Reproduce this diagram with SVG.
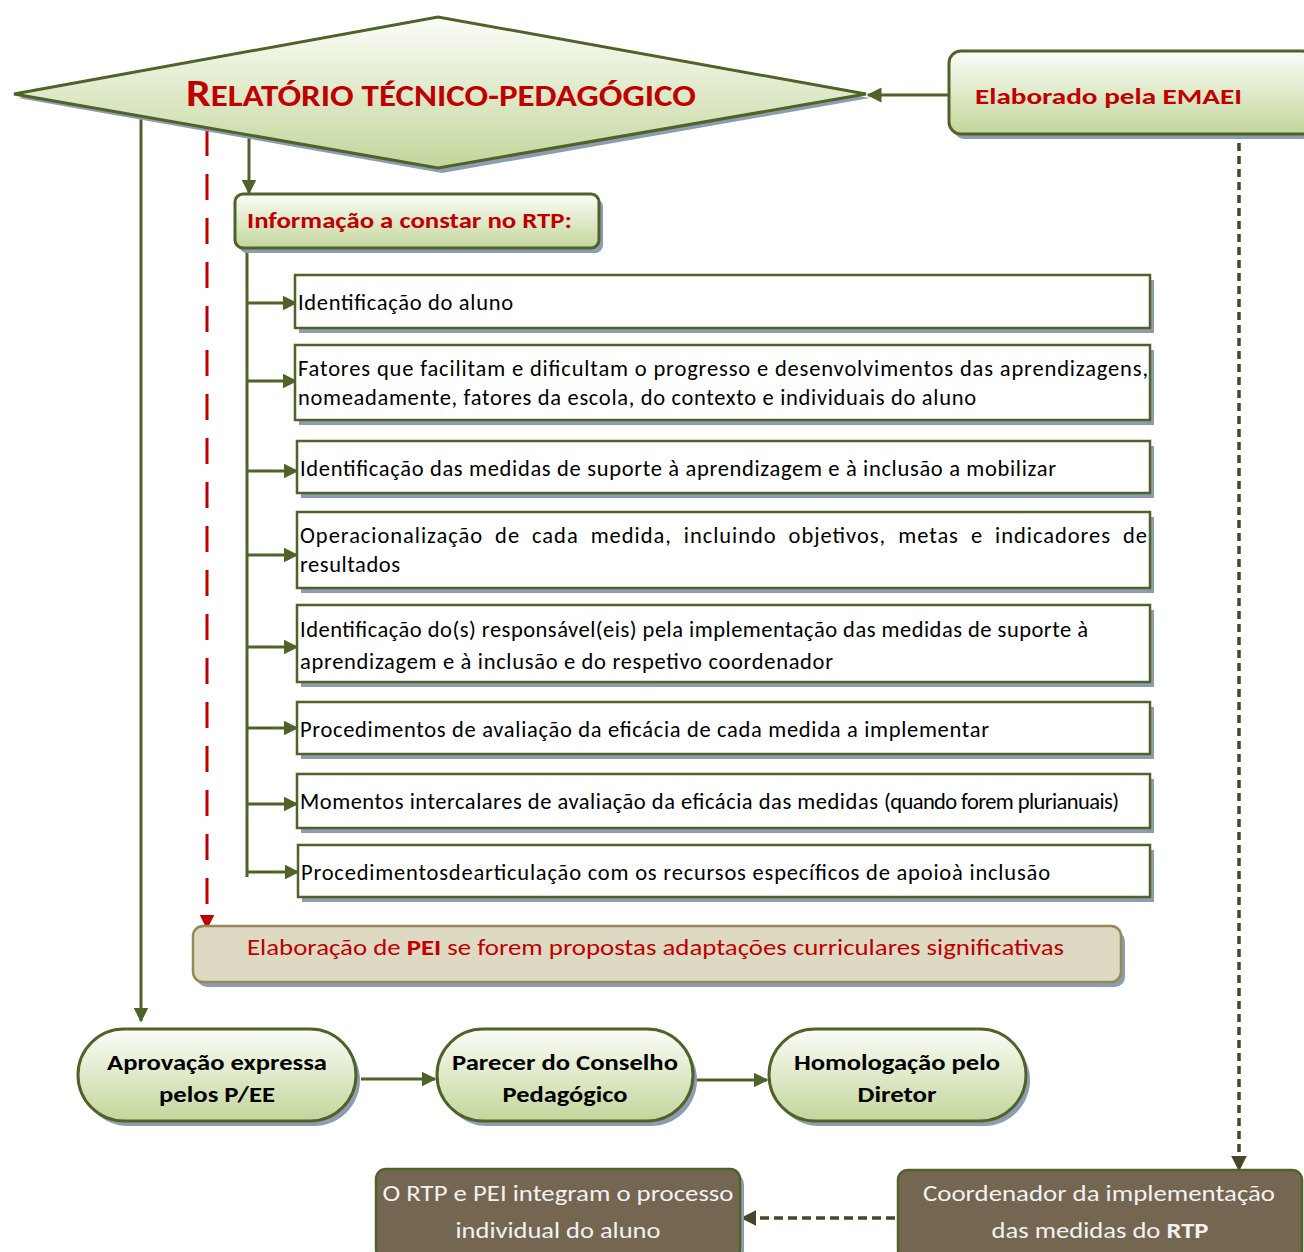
<svg xmlns="http://www.w3.org/2000/svg" width="1304" height="1252" viewBox="0 0 1304 1252">
<defs>
<linearGradient id="gGreen" x1="0" y1="0" x2="0" y2="1">
<stop offset="0" stop-color="#fbfdf8"/>
<stop offset="1" stop-color="#c3d69b"/>
</linearGradient>
<marker id="aGreen" viewBox="0 0 10 10" refX="9" refY="5" markerWidth="5" markerHeight="5" orient="auto" markerUnits="strokeWidth">
<path d="M0,0 L10,5 L0,10 z" fill="#4f6228"/>
</marker>
<marker id="aRed" viewBox="0 0 10 10" refX="9" refY="5" markerWidth="5" markerHeight="5" orient="auto" markerUnits="strokeWidth">
<path d="M0,0 L10,5 L0,10 z" fill="#c00000"/>
</marker>
<marker id="aDark" viewBox="0 0 10 10" refX="9" refY="5" markerWidth="4.5" markerHeight="4.5" orient="auto" markerUnits="strokeWidth">
<path d="M0,0 L10,5 L0,10 z" fill="#4a4529"/>
</marker>
</defs>
<style>
.sh{fill:#8e9cb1}
.gr{fill:url(#gGreen);stroke:#4f6228;stroke-width:3}
.wb{fill:#ffffff;stroke:#4f6228;stroke-width:2.5}
.br{fill:#756651;stroke:#4f6228;stroke-width:2.5}
.t{font-family:Carlito,Lato,"Liberation Sans",sans-serif;font-size:22.5px;fill:#000}
.red{fill:#c00000}
.b{font-weight:bold}
.wt{fill:#f2f2f2}
.ln{fill:none;stroke:#4f6228;stroke-width:3}
</style>

<g id="connectors">
<line class="ln" x1="949" y1="95" x2="868" y2="95" marker-end="url(#aGreen)"/>
<line x1="1239" y1="130" x2="1239" y2="1170" stroke="#4a4529" stroke-width="3.5" stroke-dasharray="8,5" marker-end="url(#aDark)"/>
<line class="ln" x1="141" y1="115" x2="141" y2="1021" marker-end="url(#aGreen)"/>
<line x1="207" y1="130" x2="207" y2="928" stroke="#c00000" stroke-width="3" stroke-dasharray="26,18" marker-end="url(#aRed)"/>
<line class="ln" x1="249" y1="135" x2="249" y2="193" marker-end="url(#aGreen)"/>
<line class="ln" x1="247" y1="248" x2="247" y2="877"/>
<line class="ln" x1="247" y1="303" x2="296" y2="303" marker-end="url(#aGreen)"/>
<line class="ln" x1="247" y1="381" x2="296" y2="381" marker-end="url(#aGreen)"/>
<line class="ln" x1="247" y1="471" x2="297" y2="471" marker-end="url(#aGreen)"/>
<line class="ln" x1="247" y1="555" x2="297" y2="555" marker-end="url(#aGreen)"/>
<line class="ln" x1="247" y1="647" x2="297" y2="647" marker-end="url(#aGreen)"/>
<line class="ln" x1="247" y1="728" x2="297" y2="728" marker-end="url(#aGreen)"/>
<line class="ln" x1="247" y1="804" x2="297" y2="804" marker-end="url(#aGreen)"/>
<line class="ln" x1="247" y1="872" x2="298" y2="872" marker-end="url(#aGreen)"/>
<line class="ln" x1="361" y1="1079" x2="435" y2="1079" marker-end="url(#aGreen)"/>
<line class="ln" x1="695" y1="1080" x2="767" y2="1080" marker-end="url(#aGreen)"/>
<line x1="895" y1="1218" x2="742" y2="1218" stroke="#4a4529" stroke-width="3.5" stroke-dasharray="9,5" marker-end="url(#aDark)"/>
</g>

<g id="rtp">
<polygon class="sh" points="18,98 442,22 870,98 442,173"/>
<polygon class="gr" points="14,94 438,17 866,94 438,168"/>
<text class="t red b" x="186" y="106" textLength="510" lengthAdjust="spacingAndGlyphs"><tspan font-size="39">R</tspan><tspan font-size="31">ELATÓRIO TÉCNICO-PEDAGÓGICO</tspan></text>
</g>

<g id="emaei">
<rect class="sh" x="953" y="56" width="360" height="83" rx="12"/>
<rect class="gr" x="949" y="51" width="365" height="83" rx="12"/>
<text class="t red b" x="975" y="104" font-size="27" textLength="267" lengthAdjust="spacingAndGlyphs">Elaborado pela EMAEI</text>
</g>

<g id="info">
<rect class="sh" x="239" y="199" width="364" height="54" rx="8"/>
<rect class="gr" x="235" y="194" width="364" height="54" rx="8"/>
<text class="t red b" x="247" y="228" font-size="24.5" textLength="325" lengthAdjust="spacingAndGlyphs">Informação a constar no RTP:</text>
</g>

<g id="item1">
<rect class="sh" x="299" y="280" width="855" height="53"/>
<rect class="wb" x="295" y="275" width="855" height="53"/>
<text class="t" x="298" y="310" textLength="215">Identificação do aluno</text>
</g>
<g id="item2">
<rect class="sh" x="299" y="350" width="855" height="75"/>
<rect class="wb" x="295" y="345" width="855" height="75"/>
<text class="t" x="298" y="376" textLength="850">Fatores que facilitam e dificultam o progresso e desenvolvimentos das aprendizagens,</text>
<text class="t" x="298" y="405" textLength="678">nomeadamente, fatores da escola, do contexto e individuais do aluno</text>
</g>
<g id="item3">
<rect class="sh" x="301" y="446" width="853" height="52"/>
<rect class="wb" x="297" y="441" width="853" height="52"/>
<text class="t" x="300" y="476" textLength="756">Identificação das medidas de suporte à aprendizagem e à inclusão a mobilizar</text>
</g>
<g id="item4">
<rect class="sh" x="301" y="517" width="853" height="76"/>
<rect class="wb" x="297" y="512" width="853" height="76"/>
<text class="t" x="300" y="543" textLength="847" word-spacing="6">Operacionalização de cada medida, incluindo objetivos, metas e indicadores de</text>
<text class="t" x="300" y="572" textLength="100">resultados</text>
</g>
<g id="item5">
<rect class="sh" x="301" y="610" width="853" height="77"/>
<rect class="wb" x="297" y="605" width="853" height="77"/>
<text class="t" x="300" y="637" textLength="788">Identificação do(s) responsável(eis) pela implementação das medidas de suporte à</text>
<text class="t" x="300" y="669" textLength="533">aprendizagem e à inclusão e do respetivo coordenador</text>
</g>
<g id="item6">
<rect class="sh" x="301" y="707" width="853" height="52"/>
<rect class="wb" x="297" y="702" width="853" height="52"/>
<text class="t" x="300" y="737" textLength="689">Procedimentos de avaliação da eficácia de cada medida a implementar</text>
</g>
<g id="item7">
<rect class="sh" x="301" y="779" width="853" height="54"/>
<rect class="wb" x="297" y="774" width="853" height="54"/>
<text class="t" x="300" y="809" textLength="578">Momentos intercalares de avaliação da eficácia das medidas</text>
<text class="t" x="884" y="809" font-size="17" textLength="235">(quando forem plurianuais)</text>
</g>
<g id="item8">
<rect class="sh" x="302" y="850" width="852" height="52"/>
<rect class="wb" x="298" y="845" width="852" height="52"/>
<text class="t" x="301" y="880" textLength="749">Procedimentosdearticulação com os recursos específicos de apoioà inclusão</text>
</g>

<g id="pei">
<rect class="sh" x="197" y="931" width="928" height="56" rx="10"/>
<rect x="193" y="926" width="928" height="56" rx="10" fill="#ddd9c3" stroke="#948a54" stroke-width="2.5"/>
<text class="t red" x="247" y="955" font-size="24.5" textLength="817" lengthAdjust="spacingAndGlyphs">Elaboração de <tspan class="b">PEI</tspan> se forem propostas adaptações curriculares significativas</text>
</g>

<g id="aprovacao">
<rect class="sh" x="82" y="1034" width="278" height="92" rx="46"/>
<rect class="gr" x="78" y="1029" width="278" height="92" rx="46"/>
<text class="t b" x="217" y="1070" text-anchor="middle" font-size="24.5" textLength="220" lengthAdjust="spacingAndGlyphs">Aprovação expressa</text>
<text class="t b" x="217" y="1102" text-anchor="middle" font-size="24.5" textLength="116" lengthAdjust="spacingAndGlyphs">pelos P/EE</text>
</g>
<g id="parecer">
<rect class="sh" x="441" y="1034" width="256" height="92" rx="46"/>
<rect class="gr" x="437" y="1029" width="256" height="92" rx="46"/>
<text class="t b" x="565" y="1070" text-anchor="middle" font-size="24.5" textLength="226" lengthAdjust="spacingAndGlyphs">Parecer do Conselho</text>
<text class="t b" x="565" y="1102" text-anchor="middle" font-size="24.5" textLength="125" lengthAdjust="spacingAndGlyphs">Pedagógico</text>
</g>
<g id="homologacao">
<rect class="sh" x="773" y="1034" width="257" height="92" rx="46"/>
<rect class="gr" x="769" y="1029" width="257" height="92" rx="46"/>
<text class="t b" x="897" y="1070" text-anchor="middle" font-size="24.5" textLength="206" lengthAdjust="spacingAndGlyphs">Homologação pelo</text>
<text class="t b" x="897" y="1102" text-anchor="middle" font-size="24.5" textLength="79" lengthAdjust="spacingAndGlyphs">Diretor</text>
</g>

<g id="processo">
<rect class="sh" x="380" y="1174" width="364" height="90" rx="10"/>
<rect class="br" x="376" y="1169" width="364" height="90" rx="10"/>
<text class="t wt" x="558" y="1201" text-anchor="middle" font-size="25" textLength="351" lengthAdjust="spacingAndGlyphs">O RTP e PEI integram o processo</text>
<text class="t wt" x="558" y="1238" text-anchor="middle" font-size="25" textLength="205" lengthAdjust="spacingAndGlyphs">individual do aluno</text>
</g>
<g id="coordenador">
<rect class="br" x="898" y="1170" width="404" height="90" rx="10"/>
<text class="t wt" x="1099" y="1201" text-anchor="middle" font-size="25" textLength="352" lengthAdjust="spacingAndGlyphs">Coordenador da implementação</text>
<text class="t wt" x="1100" y="1238" text-anchor="middle" font-size="25" textLength="217" lengthAdjust="spacingAndGlyphs">das medidas do <tspan class="b">RTP</tspan></text>
</g>
</svg>
